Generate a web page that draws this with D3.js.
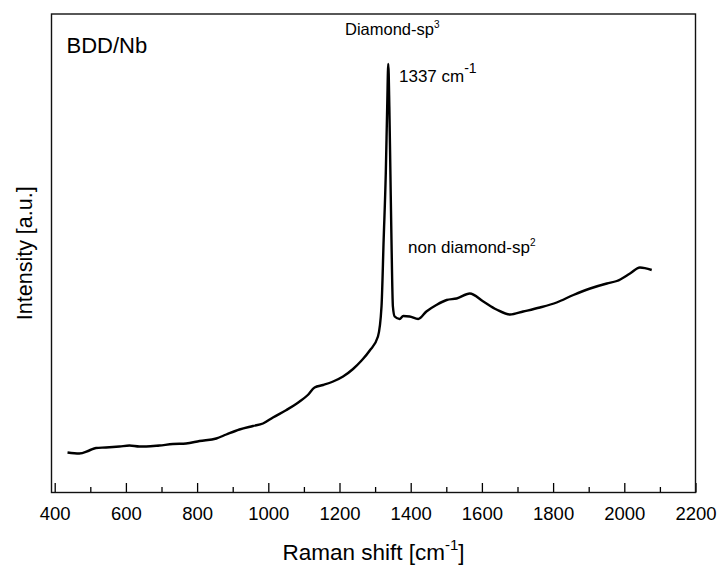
<!DOCTYPE html>
<html>
<head>
<meta charset="utf-8">
<script src="https://cdn.jsdelivr.net/npm/d3@7"></script>
<style>
  body { margin: 0; background: #fff; }
  svg { display: block; font-family: "Liberation Sans", Arial, sans-serif; }
</style>
</head>
<body>
<div id="chart"></div>
<script>
const WIDTH = 717;
const HEIGHT = 565;

// Raman spectrum (intensity in arbitrary units)
const shift = [436, 469, 497, 516, 544, 582, 610, 638, 657, 694, 732, 769, 807, 854, 882, 919, 957, 985,
    1013, 1051, 1088, 1111, 1130, 1154, 1182, 1210, 1238, 1262, 1285, 1308, 1318, 1324, 1330, 1334, 1337,
    1340, 1343, 1346, 1350, 1355, 1369, 1379, 1397, 1421, 1444, 1472, 1501, 1529, 1566, 1604, 1641, 1679,
    1716, 1763, 1810, 1857, 1904, 1951, 1979, 2016, 2044, 2077];
const intensity = [80, 78, 84, 89, 90, 92, 94, 92, 92, 94, 97, 98, 103, 108, 116, 126, 133, 138,
    150, 165, 182, 195, 210, 215, 222, 232, 247, 264, 284, 312, 372, 505, 638, 772, 857,
    772, 638, 505, 372, 352, 347, 353, 352, 347, 362, 375, 385, 388, 398, 382, 366, 356,
    362, 370, 380, 395, 408, 418, 423, 438, 450, 445];

const majorTicks = [400, 600, 800, 1000, 1200, 1400, 1600, 1800, 2000, 2200];
const minorTicks = [500, 700, 900, 1100, 1300, 1500, 1700, 1900, 2100];

const margin = { left: 51.5, right: 21.5, top: 14, bottom: 72.5 };
const plotW = WIDTH - margin.left - margin.right;
const plotH = HEIGHT - margin.top - margin.bottom;

let svg = d3.select("#chart")
    .append("svg")
    .attr("width", WIDTH)
    .attr("height", HEIGHT);

let x = d3.scaleLinear()
    .domain([391, 2200])
    .range([margin.left, margin.left + plotW]);

let y = d3.scaleLinear()
    .domain([0, 957])
    .range([margin.top + plotH, margin.top]);

let data = shift.map((s, i) => ({ x: s, y: intensity[i] }));

// ticks point inward
svg.append("g")
    .attr("transform", `translate(0, ${margin.top + plotH})`)
    .call(d3.axisBottom(x).tickValues(majorTicks).tickSizeInner(-9.5).tickSizeOuter(0).tickPadding(14)
        .tickFormat(d3.format("d")))
    .call(g => g.select(".domain").remove())
    .call(g => g.selectAll("line").attr("stroke", "#000").attr("stroke-width", 1.3))
    .call(g => g.selectAll("text").attr("font-size", "18.5px").attr("fill", "#000")
        .attr("font-family", "Liberation Sans, Arial, sans-serif"));

svg.append("g")
    .attr("transform", `translate(0, ${margin.top + plotH})`)
    .call(d3.axisBottom(x).tickValues(minorTicks).tickSizeInner(-5.5).tickSizeOuter(0).tickFormat(""))
    .call(g => g.select(".domain").remove())
    .call(g => g.selectAll("line").attr("stroke", "#000").attr("stroke-width", 1.3));

// frame
svg.append("rect")
    .attr("x", margin.left)
    .attr("y", margin.top)
    .attr("width", plotW)
    .attr("height", plotH)
    .attr("fill", "none")
    .attr("stroke", "#111")
    .attr("stroke-width", 1.4);

let line = d3.line()
    .x(d => x(d.x))
    .y(d => y(d.y))
    .curve(d3.curveMonotoneX);

svg.append("path")
    .datum(data)
    .attr("d", line)
    .attr("fill", "none")
    .attr("stroke", "#000")
    .attr("stroke-width", 2.4)
    .attr("stroke-linejoin", "round");

// labels
svg.append("text")
    .attr("x", 66.5)
    .attr("y", 53)
    .style("font-size", "22px")
    .text("BDD/Nb");

let t1 = svg.append("text")
    .attr("x", 345)
    .attr("y", 35)
    .style("font-size", "16.5px");
t1.append("tspan").text("Diamond-sp");
t1.append("tspan").attr("dy", -7).style("font-size", "10px").text("3");

let t2 = svg.append("text")
    .attr("x", 399)
    .attr("y", 82)
    .style("font-size", "17px");
t2.append("tspan").text("1337 cm");
t2.append("tspan").attr("dy", -9).style("font-size", "14px").text("-1");

let t3 = svg.append("text")
    .attr("x", 408)
    .attr("y", 253)
    .style("font-size", "17px");
t3.append("tspan").text("non diamond-sp");
t3.append("tspan").attr("dy", -7).style("font-size", "10px").text("2");

let xt = svg.append("text")
    .attr("x", margin.left + plotW / 2)
    .attr("y", 560)
    .attr("text-anchor", "middle")
    .style("font-size", "22.5px");
xt.append("tspan").text("Raman shift [cm");
xt.append("tspan").attr("dy", -10).style("font-size", "15px").text("-1");
xt.append("tspan").attr("dy", 10).text("]");

svg.append("text")
    .attr("transform", `translate(32, ${margin.top + plotH / 2}) rotate(-90)`)
    .attr("text-anchor", "middle")
    .style("font-size", "21.5px")
    .text("Intensity [a.u.]");
</script>
</body>
</html>
